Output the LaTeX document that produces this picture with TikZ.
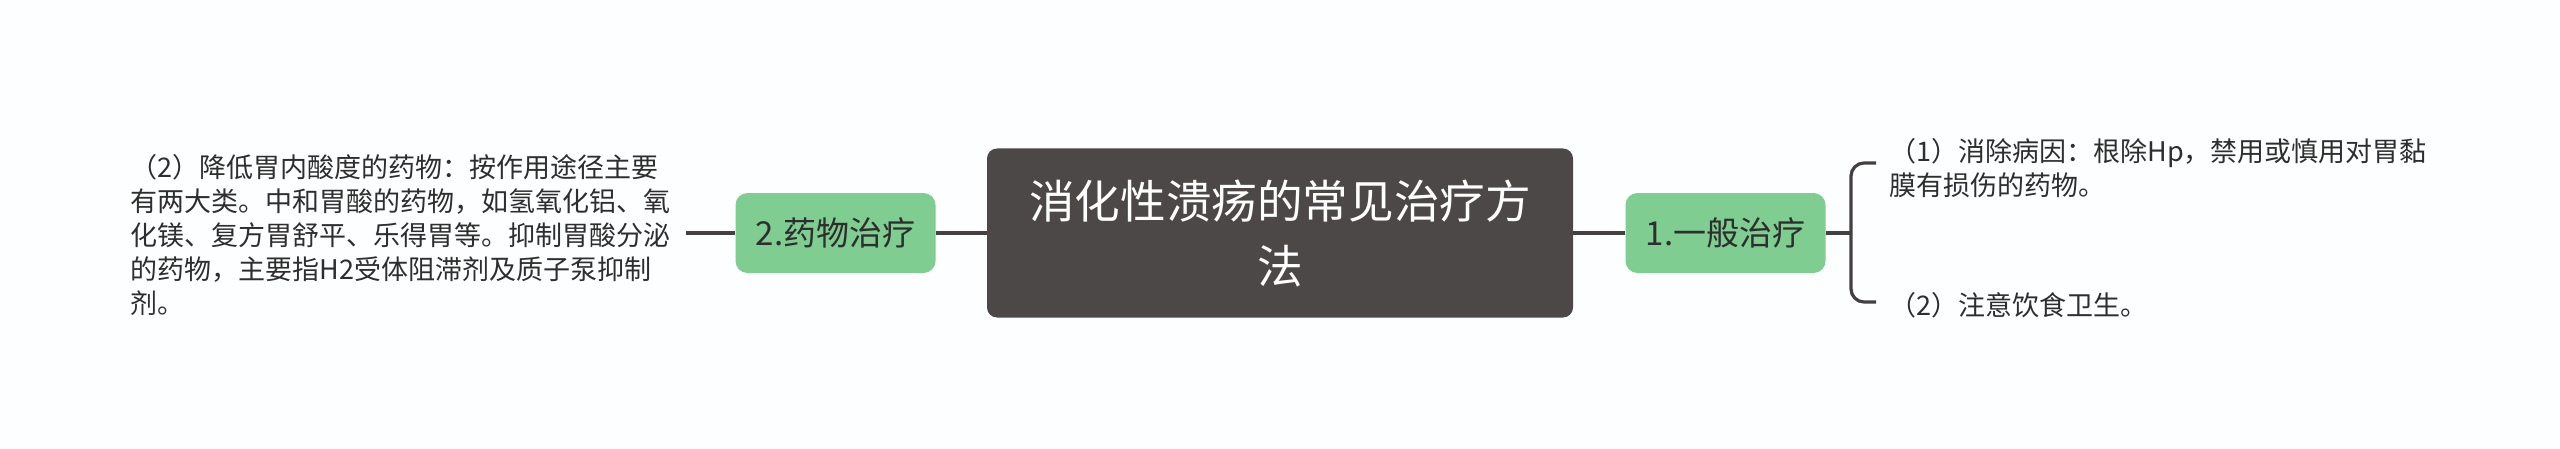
\documentclass[tikz,border=0pt]{standalone}
\usepackage{fontspec}
\setmainfont{Noto Sans CJK SC}
\newfontfamily\cjk{Noto Sans CJK SC}
\definecolor{bgc}{HTML}{FDFEFF}
\definecolor{rootc}{HTML}{4C4848}
\definecolor{greenc}{HTML}{7FCD91}
\definecolor{linec}{HTML}{444040}
\definecolor{txtc}{HTML}{2E2E2E}
\tikzset{
  rootbox/.style={draw=none, fill=rootc, rounded corners=5pt, minimum width=293pt, minimum height=84.5pt, inner sep=0pt, align=center, text=white, font=\cjk\fontsize{22.8pt}{32.5pt}\selectfont},
  subbox/.style={draw=none, fill=greenc, rounded corners=6pt, minimum width=100pt, minimum height=40pt, inner sep=0pt, align=center, text=txtc, font=\cjk\fontsize{16.5pt}{20pt}\selectfont},
  leaftext/.style={inner sep=0pt, align=left, anchor=west, text=txtc, font=\cjk\fontsize{13.5pt}{17pt}\selectfont},
  conn/.style={draw=linec, line width=1.6pt},
}
\begin{document}
\begin{tikzpicture}[x=0.5pt,y=-0.5pt]
\fill[bgc] (0,0) rectangle (2560,449);
\useasboundingbox (0,0) rectangle (2560,449);
\node[rootbox] (root) at (1280,233) {消化性溃疡的常见治疗方\\法};
\node[subbox] (left) at (835.5,233) {2.药物治疗};
\node[subbox] (right) at (1725.5,233) {1.一般治疗};
\node[leaftext] (ltext) at (130,235) {（2）降低胃内酸度的药物：按作用途径主要\\有两大类。中和胃酸的药物，如氢氧化铝、氧\\化镁、复方胃舒平、乐得胃等。抑制胃酸分泌\\的药物，主要指H2受体阻滞剂及质子泵抑制\\剂。};
\node[leaftext] (r1) at (1889,168.5) {（1）消除病因：根除Hp，禁用或慎用对胃黏\\膜有损伤的药物。};
\node[leaftext] (r2) at (1889,305) {（2）注意饮食卫生。};
\coordinate (lend) at (686,233);
\coordinate (bj) at (1851,233);
\coordinate (b1) at (1876,163);
\coordinate (b2) at (1876,302);
\draw[conn] (root.west) -- (left.east);
\draw[conn] (left.west) -- (lend);
\draw[conn] (root.east) -- (right.west);
\draw[conn] (right.east) -- (bj);
\draw[conn, rounded corners=6.5pt] (b1) -| (bj);
\draw[conn, rounded corners=6.5pt] (b2) -| (bj);
\end{tikzpicture}
\end{document}
